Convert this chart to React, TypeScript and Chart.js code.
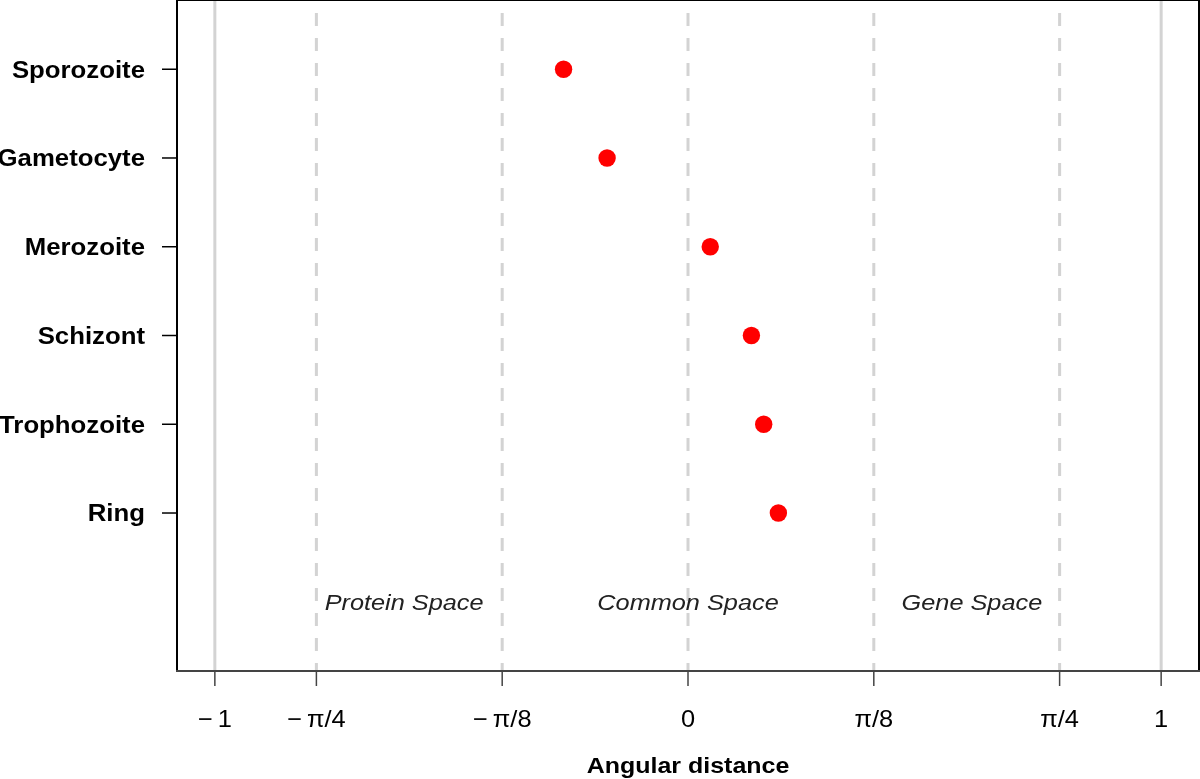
import React, { useEffect, useRef } from "react";
import { Chart, registerables } from "chart.js";

Chart.register(...registerables);

// ---- data ----
const categories = ["Ring", "Trophozoite", "Schizont", "Merozoite", "Gametocyte", "Sporozoite"];
const categoryPositions = [1, 2, 3, 4, 5, 6];
const angularDistance = [0.191, 0.160, 0.134, 0.047, -0.171, -0.263];

const xTickValues = [-1, -Math.PI / 4, -Math.PI / 8, 0, Math.PI / 8, Math.PI / 4, 1];
const xTickLabels = ["\u2212\u20091", "\u2212\u2009\u03c0/4", "\u2212\u2009\u03c0/8", "0", "\u03c0/8", "\u03c0/4", "1"];
const solidLineValues = [-1, 1];
const dashedLineValues = [-Math.PI / 4, -Math.PI / 8, 0, Math.PI / 8, Math.PI / 4];

const regionLabels = ["Protein Space", "Common Space", "Gene Space"];
const regionX = [-0.6, 0, 0.6];
const regionY = 0;

const xTitle = "Angular distance";

function drawStretched(
  ctx: CanvasRenderingContext2D,
  text: string,
  x: number,
  y: number,
  font: string,
  align: CanvasTextAlign,
  sx: number,
  color: string
) {
  ctx.save();
  ctx.translate(x, y);
  ctx.scale(sx, 1);
  ctx.font = font;
  ctx.fillStyle = color;
  ctx.textAlign = align;
  ctx.textBaseline = "alphabetic";
  ctx.fillText(text, 0, 0);
  ctx.restore();
}

const decorPlugin = {
  id: "decor",
  beforeDatasetsDraw(chart: any) {
    const { ctx, chartArea, scales } = chart;
    const xs = scales.x;
    ctx.save();
    ctx.beginPath();
    ctx.rect(chartArea.left, chartArea.top, chartArea.right - chartArea.left, chartArea.bottom - chartArea.top);
    ctx.clip();
    ctx.strokeStyle = "#d3d3d3";
    ctx.lineWidth = 3;
    for (const v of solidLineValues) {
      const px = xs.getPixelForValue(v);
      ctx.beginPath();
      ctx.moveTo(px, chartArea.top);
      ctx.lineTo(px, chartArea.bottom);
      ctx.stroke();
    }
    ctx.setLineDash([13, 12]);
    ctx.lineDashOffset = 12;
    for (const v of dashedLineValues) {
      const px = xs.getPixelForValue(v);
      ctx.beginPath();
      ctx.moveTo(px, chartArea.top);
      ctx.lineTo(px, chartArea.bottom);
      ctx.stroke();
    }
    ctx.setLineDash([]);
    // region labels
    regionLabels.forEach((t, i) => {
      const px = xs.getPixelForValue(regionX[i]);
      const py = scales.y.getPixelForValue(regionY);
      drawStretched(ctx, t, px, py + 8, "italic 22px 'Liberation Sans', Arial, sans-serif", "center", 1.15, "#222");
    });
    ctx.restore();
  },
  afterDraw(chart: any) {
    const { ctx, chartArea, scales } = chart;
    const xs = scales.x;
    const ys = scales.y;
    ctx.save();
    // box
    ctx.strokeStyle = "#000";
    ctx.lineWidth = 2;
    ctx.beginPath();
    ctx.moveTo(chartArea.left, chartArea.bottom);
    ctx.lineTo(chartArea.left, chartArea.top);
    ctx.lineTo(chartArea.right, chartArea.top);
    ctx.lineTo(chartArea.right, chartArea.bottom);
    ctx.stroke();
    ctx.strokeStyle = "#444";
    ctx.beginPath();
    ctx.moveTo(chartArea.left - 1, chartArea.bottom);
    ctx.lineTo(chartArea.right + 1, chartArea.bottom);
    ctx.stroke();

    // x ticks
    ctx.lineWidth = 1.5;
    ctx.strokeStyle = "#444";
    xTickValues.forEach((v, i) => {
      const px = xs.getPixelForValue(v);
      ctx.beginPath();
      ctx.moveTo(px, chartArea.bottom);
      ctx.lineTo(px, chartArea.bottom + 15);
      ctx.stroke();
      drawStretched(ctx, xTickLabels[i], px, chartArea.bottom + 56, "24px 'Liberation Sans', Arial, sans-serif", "center", 1.06, "#000");
    });

    // y ticks
    ctx.strokeStyle = "#000";
    categoryPositions.forEach((v, i) => {
      const py = ys.getPixelForValue(v);
      ctx.beginPath();
      ctx.moveTo(chartArea.left - 15, py);
      ctx.lineTo(chartArea.left, py);
      ctx.stroke();
      drawStretched(ctx, categories[i], chartArea.left - 32, py + 8.3, "bold 23px 'Liberation Sans', Arial, sans-serif", "right", 1.12, "#000");
    });

    // x title
    drawStretched(ctx, xTitle, xs.getPixelForValue(0), chartArea.bottom + 102, "bold 22.5px 'Liberation Sans', Arial, sans-serif", "center", 1.11, "#000");
    ctx.restore();
  },
};

export default function App() {
  const canvasRef = useRef<HTMLCanvasElement | null>(null);

  useEffect(() => {
    document.body.style.margin = "0";
    const canvas = canvasRef.current;
    if (!canvas) return;
    const chart = new Chart(canvas, {
      type: "scatter",
      data: {
        datasets: [
          {
            label: "Angular distance",
            data: angularDistance.map((v, i) => ({ x: v, y: categoryPositions[i] })),
            backgroundColor: "#ff0000",
            borderWidth: 0,
            pointRadius: 8.7,
            pointHoverRadius: 8.7,
          },
        ],
      },
      options: {
        animation: false,
        responsive: false,
        devicePixelRatio: 1,
        layout: { autoPadding: false, padding: { left: 177, top: 0, right: 1, bottom: 108 } },
        plugins: {
          legend: { display: false },
          tooltip: { enabled: false },
        },
        scales: {
          x: { type: "linear", min: -1.08, max: 1.08, display: false },
          y: { type: "linear", min: -0.78, max: 6.78, display: false },
        },
      },
      plugins: [decorPlugin],
    });
    return () => chart.destroy();
  }, []);

  return (
    <div style={{ position: "absolute", left: 0, top: 0, width: 1200, height: 779, background: "#fff" }}>
      <canvas ref={canvasRef} width={1200} height={779} />
    </div>
  );
}
